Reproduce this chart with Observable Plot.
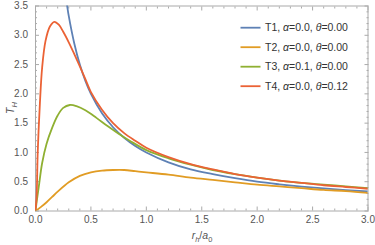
<!DOCTYPE html>
<html><head><meta charset="utf-8">
<script src="https://cdn.jsdelivr.net/npm/d3@7"></script>
<script src="https://cdn.jsdelivr.net/npm/@observablehq/plot@0.6"></script>
<style>
body{margin:0;background:#fff;font-family:"Liberation Sans",Arial,sans-serif}
#wrap{position:relative;width:375px;height:245px}
</style>
</head><body><div id="wrap"></div>
<script>
// Series values (r_h/a_0 , T_H)
const r1 = [0.27,0.286,0.3,0.35,0.4,0.45,0.5,0.6,0.7,0.8,0.9,1.0,1.2,1.4,1.6,1.8,2.0,2.2,2.4,2.6,2.8,3.0];
const t1 = [3.7,3.5,3.33,2.86,2.5,2.22,2.0,1.67,1.43,1.25,1.11,1.0,0.83,0.71,0.63,0.56,0.5,0.455,0.417,0.385,0.357,0.333];
const r2 = [0,0.05,0.1,0.15,0.2,0.3,0.4,0.5,0.6,0.7,0.8,0.9,1.0,1.2,1.4,1.6,1.8,2.0,2.2,2.4,2.6,2.8,3.0];
const t2 = [0,0.07,0.15,0.24,0.33,0.49,0.6,0.66,0.69,0.70,0.70,0.68,0.66,0.62,0.57,0.53,0.49,0.45,0.42,0.39,0.36,0.34,0.31];
const r3 = [0,0.01,0.03,0.06,0.1,0.15,0.2,0.25,0.31,0.37,0.45,0.55,0.65,0.75,0.85,1.0,1.2,1.4,1.6,1.8,2.0,2.2,2.4,2.6,2.8,3.0];
const t3 = [0,0.15,0.42,0.82,1.15,1.42,1.63,1.76,1.81,1.79,1.72,1.59,1.45,1.32,1.2,1.04,0.9,0.79,0.70,0.63,0.57,0.52,0.48,0.45,0.42,0.39];
const r4 = [0,0.01,0.02,0.04,0.06,0.09,0.13,0.17,0.21,0.25,0.3,0.35,0.4,0.45,0.5,0.6,0.7,0.8,0.9,1.0,1.2,1.4,1.6,1.8,2.0,2.2,2.4,2.6,2.8,3.0];
const t4 = [0,0.25,1.0,1.85,2.45,2.9,3.15,3.23,3.18,3.06,2.88,2.68,2.47,2.25,2.03,1.73,1.5,1.33,1.2,1.08,0.92,0.8,0.71,0.63,0.57,0.52,0.48,0.44,0.41,0.38];

const names  = ["T1","T2","T3","T4"];
const alphas = ["0.0","0.0","0.1","0.0"];
const thetas = ["0.00","0.00","0.00","0.12"];
const colors = ["#5E81B5","#E19C24","#8FB032","#EB6235"];

const xMajor = [0,0.5,1.0,1.5,2.0,2.5,3.0];
const xMinor = [0.1,0.2,0.3,0.4,0.6,0.7,0.8,0.9,1.1,1.2,1.3,1.4,1.6,1.7,1.8,1.9,2.1,2.2,2.3,2.4,2.6,2.7,2.8,2.9];
const yMajor = [0,0.5,1.0,1.5,2.0,2.5,3.0,3.5];
const yMinor = [0.1,0.2,0.3,0.4,0.6,0.7,0.8,0.9,1.1,1.2,1.3,1.4,1.6,1.7,1.8,1.9,2.1,2.2,2.3,2.4,2.6,2.7,2.8,2.9,3.1,3.2,3.3,3.4];

const rs = [r1,r2,r3,r4], ts = [t1,t2,t3,t4];
const data = rs.flatMap((r,i)=> r.map((x,j)=>({s:names[i], x, y: ts[i][j]})));

const tickCol = "#aaa";
const labCol = "#555";
const plot = Plot.plot({
  width: 375, height: 245,
  marginLeft: 35, marginRight: 7.5, marginTop: 5.5, marginBottom: 34.5,
  style: {fontFamily: '"Liberation Sans", Arial, sans-serif', fontSize: "10px", background: "#fff"},
  x: {domain: [0,3], label: null},
  y: {domain: [0,3.5], label: null},
  color: {domain: names, range: colors},
  marks: [
    Plot.axisX(xMajor, {anchor:"bottom", tickSize:0, tickPadding:5, tickFormat: d=>d.toFixed(1), fill: labCol, label:null}),
    Plot.axisY(yMajor, {anchor:"left", tickSize:0, tickPadding:7.5, tickFormat: d=>d.toFixed(1), fill: labCol, label:null}),
    Plot.axisX(xMajor, {anchor:"bottom", tickSize:-4, text:null, stroke: tickCol, label:null}),
    Plot.axisX(xMajor, {anchor:"top", tickSize:-4, text:null, stroke: tickCol, label:null}),
    Plot.axisX(xMinor, {anchor:"bottom", tickSize:-2, text:null, stroke: tickCol, label:null}),
    Plot.axisX(xMinor, {anchor:"top", tickSize:-2, text:null, stroke: tickCol, label:null}),
    Plot.axisY(yMajor, {anchor:"left", tickSize:-4, text:null, stroke: tickCol, label:null}),
    Plot.axisY(yMajor, {anchor:"right", tickSize:-4, text:null, stroke: tickCol, label:null}),
    Plot.axisY(yMinor, {anchor:"left", tickSize:-2, text:null, stroke: tickCol, label:null}),
    Plot.axisY(yMinor, {anchor:"right", tickSize:-2, text:null, stroke: tickCol, label:null}),
    Plot.frame({stroke: tickCol}),
    Plot.line(data, {x:"x", y:"y", z:"s", stroke:"s", strokeWidth:1.8, curve:"catmull-rom", clip:true})
  ]
});
document.getElementById("wrap").appendChild(plot);

const svg = d3.select(plot);
const font = '"Liberation Sans", Arial, sans-serif';
// Legend
names.forEach((n,i)=>{
  const y = 27.7 + i*19.5;
  svg.append("line").attr("x1",240.5).attr("x2",260.5).attr("y1",y).attr("y2",y)
     .attr("stroke",colors[i]).attr("stroke-width",1.8);
  const t = svg.append("text").attr("x",265).attr("y",y).attr("dy","0.35em")
     .attr("text-anchor","start")
     .attr("font-size","10.5px").attr("font-family",font).attr("fill","#333");
  t.append("tspan").text(n + ", ");
  t.append("tspan").attr("font-style","italic").text("α");
  t.append("tspan").text("=" + alphas[i] + ", ");
  t.append("tspan").attr("font-style","italic").text("θ");
  t.append("tspan").text("=" + thetas[i]);
});
// Axis labels
const yl = svg.append("text").attr("transform","translate(14,108) rotate(-90)")
   .attr("text-anchor","middle").attr("font-size","10.5px").attr("font-family",font).attr("fill",labCol);
yl.append("tspan").attr("font-style","italic").text("T");
yl.append("tspan").attr("font-style","italic").attr("font-size","7.5px").attr("dy","2.5").text("H");
const xl = svg.append("text").attr("x",202).attr("y",239)
   .attr("text-anchor","middle").attr("font-size","10.5px").attr("font-family",font).attr("fill",labCol);
xl.append("tspan").attr("font-style","italic").text("r");
xl.append("tspan").attr("font-style","italic").attr("font-size","7.5px").attr("dy","2.5").text("h");
xl.append("tspan").attr("dy","-2.5").text("/");
xl.append("tspan").attr("font-style","italic").text("a");
xl.append("tspan").attr("font-size","7.5px").attr("dy","2.5").text("0");
</script>
</body></html>
